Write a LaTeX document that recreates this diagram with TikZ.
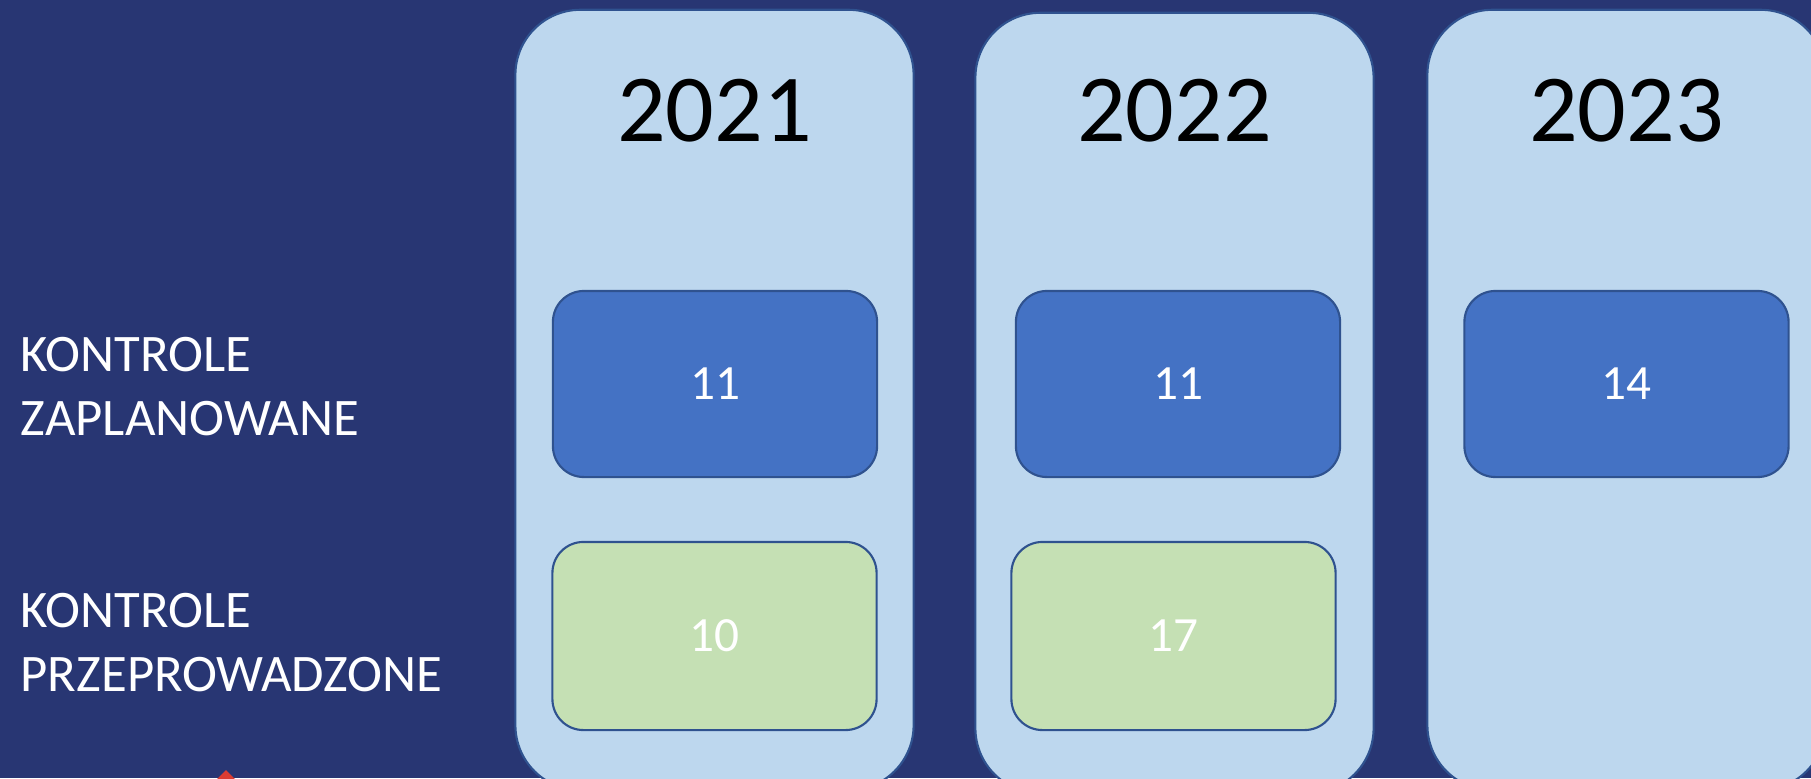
\documentclass[tikz,border=0pt]{standalone}
\usepackage{fontspec}
\setmainfont{Carlito}
\usepackage{xcolor}
\usepackage{tikz}
\definecolor{bgnavy}{HTML}{283673}
\definecolor{colfill}{HTML}{BDD7EE}
\definecolor{edgeblue}{HTML}{2F528F}
\definecolor{planfill}{HTML}{4472C4}
\definecolor{donefill}{HTML}{C5E0B4}
\definecolor{logored}{HTML}{DC3C32}

\begin{document}
\begin{tikzpicture}[x=0.01cm,y=-0.01cm,
  yearcol/.style={draw=edgeblue,line width=0.6pt,fill=colfill,rounded corners=0.65cm,minimum width=3.98cm,minimum height=7.8cm,inner sep=0},
  planbox/.style={draw=edgeblue,line width=0.6pt,fill=planfill,rounded corners=0.31cm,minimum width=3.24cm,minimum height=1.86cm,inner sep=0,text=white,font=\fontsize{14}{17}\selectfont},
  donebox/.style={planbox,fill=donefill,minimum height=1.88cm},
  rowlabel/.style={anchor=west,align=left,inner sep=0,text=white,font=\fontsize{15}{18.35}\selectfont},
  yearlabel/.style={inner sep=0,font=\fontsize{27.3}{32}\selectfont}]
\useasboundingbox (0,0) rectangle (1811,778);
\clip (0,0) rectangle (1811,778);
\fill[bgnavy] (0,0) rectangle (1811,778);
\foreach \yr/\cx/\ty/\px/\plan in {2021/714.5/10/715/11,2022/1174.5/13/1178/11,2023/1626.5/10/1626.5/14} {
  \node[yearcol] (col\yr) at (\cx,\ty+390) {};
  \node[yearlabel] (year\yr) at (\cx,111) {\yr};
  \node[planbox] (plan\yr) at (\px,384) {\plan};
}
\foreach \yr/\dx/\done in {2021/714.5/10,2022/1173.5/17} {
  \node[donebox] (done\yr) at (\dx,636) {\done};
}
\node[rowlabel] (lblplan) at (20,386.5) {KONTROLE\\ZAPLANOWANE};
\node[rowlabel] (lbldone) at (20,642.5) {KONTROLE\\PRZEPROWADZONE};
\fill[logored] (226,770) -- (236,780) -- (216,780) -- cycle;
\end{tikzpicture}
\end{document}
